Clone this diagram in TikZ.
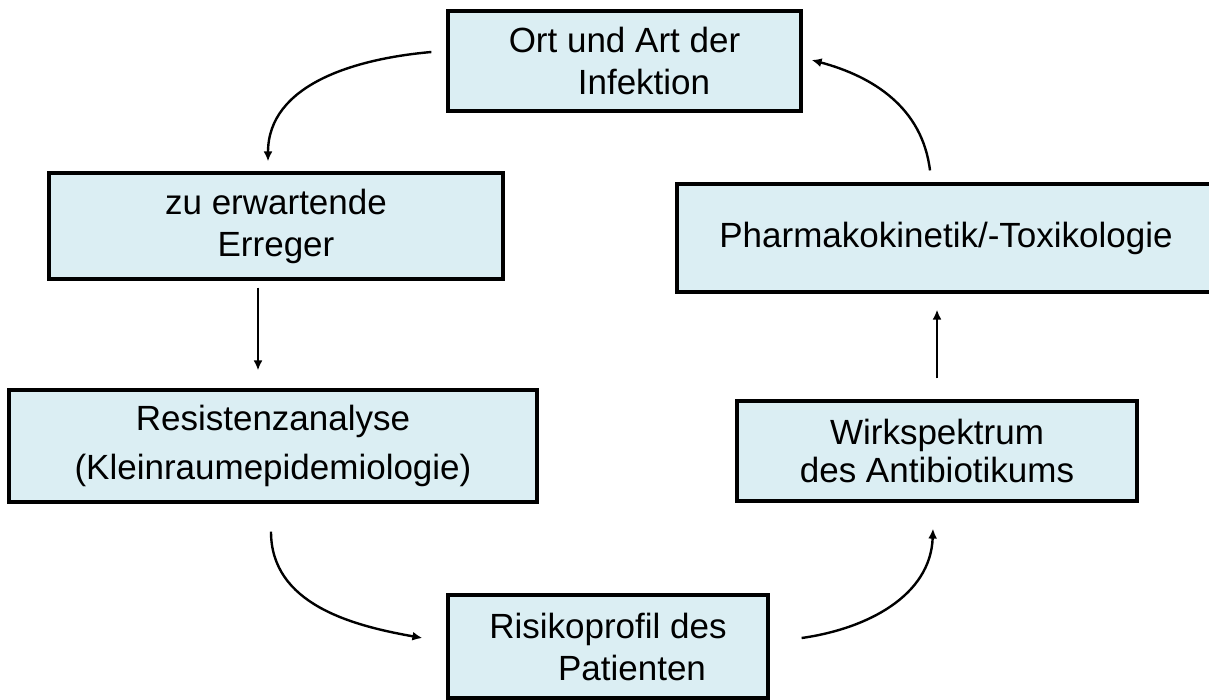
\documentclass[tikz,border=0pt]{standalone}
\usepackage{fontspec}
\setmainfont{Liberation Sans}
\usetikzlibrary{arrows.meta}
\definecolor{boxfill}{RGB}{219,238,243}
\begin{document}
\begin{tikzpicture}[x=0.5pt,y=-0.5pt]
    \tikzstyle{every node}+=[inner sep=0pt]
    \tikzstyle{box}=[draw=black, line width=1.6pt, fill=boxfill, align=center, font=\fontsize{17.5}{21}\selectfont]
    \tikzstyle{arr}=[black, line width=1.2pt, -{Latex[length=5pt,width=4.5pt]}]
    \useasboundingbox (0,0) rectangle (1209,700);
    \node [box, minimum width=176.5pt, minimum height=50pt] (ort) at (624.5,61) {Ort und Art der\\\hspace*{19.5pt}Infektion};
    \node [box, minimum width=227pt, minimum height=53pt] (erreger) at (276,226) {zu erwartende\\Erreger};
    \node [box, minimum width=264pt, minimum height=56pt, font=\fontsize{17.5}{24.5}\selectfont] (resistenz) at (273,446) {Resistenzanalyse\\(Kleinraumepidemiologie)};
    \node [box, minimum width=160pt, minimum height=51.5pt] (risiko) at (608,646.5) {Risikoprofil des\\\hspace*{24pt}Patienten};
    \node [box, minimum width=200pt, minimum height=50pt, font=\fontsize{17.5}{19}\selectfont] (wirk) at (937,451) {Wirkspektrum\\des Antibiotikums};
    \node [box, minimum width=269pt, minimum height=54pt] (pharma) at (946,238) {Pharmakokinetik/-Toxikologie};
    \draw [arr] ([xshift=-7.5pt,yshift=4.5pt]ort.west) to[out=185,in=90] ([xshift=-4pt,yshift=5pt]erreger.north);
    \draw [arr] ([xshift=-9pt,yshift=-3.5pt]erreger.south) -- ([xshift=-7.5pt,yshift=9pt]resistenz.north);
    \draw [arr] ([xshift=-1pt,yshift=-14pt]resistenz.south) to[out=-90,in=170] ([xshift=-12pt,yshift=4.25pt]risiko.west);
    \draw [arr] ([xshift=16pt,yshift=4.25pt]risiko.east) to[out=8,in=-92] ([xshift=-2pt,yshift=-13pt]wirk.south);
    \draw [arr] ([yshift=10.5pt]wirk.north) -- ([xshift=-4.5pt,yshift=-8pt]pharma.south);
    \draw [arr] ([xshift=-8pt,yshift=6pt]pharma.north) to[out=97,in=-15] ([xshift=4.5pt,yshift=0.5pt]ort.east);
\end{tikzpicture}
\end{document}
